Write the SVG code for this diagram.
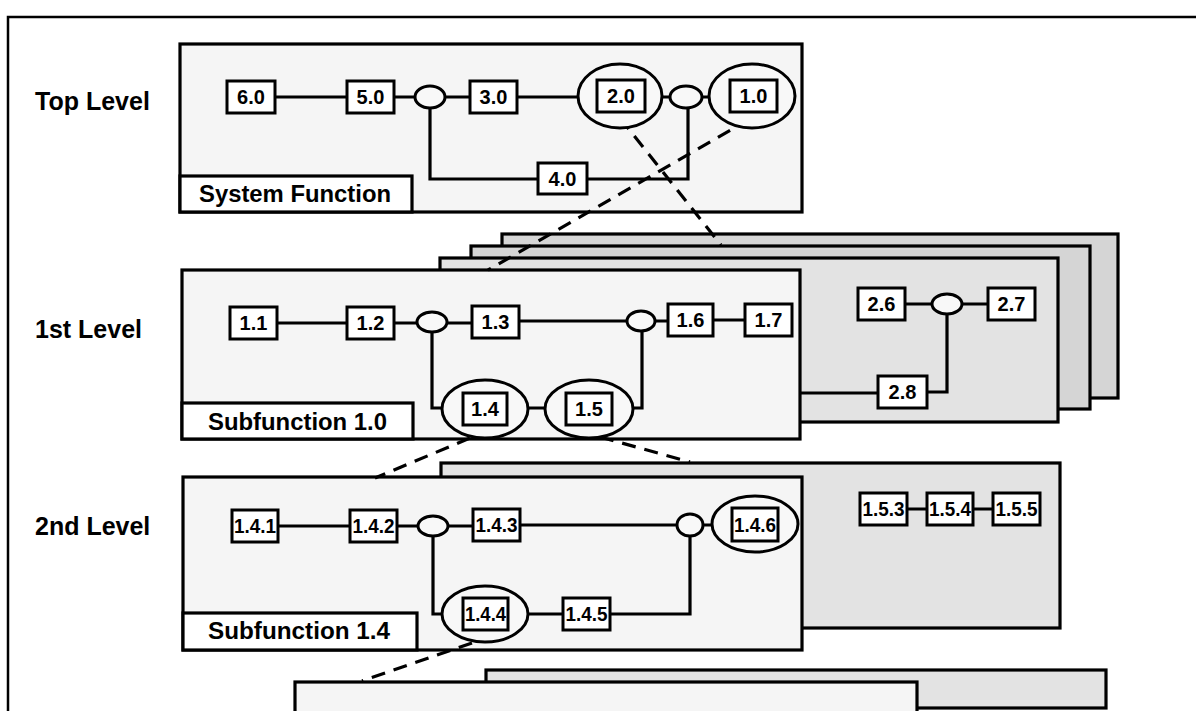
<svg xmlns="http://www.w3.org/2000/svg" width="1196" height="711" viewBox="0 0 1196 711">
<style>
.panel{fill:#f5f5f5;stroke:#000;stroke-width:3.2}
.mid{fill:#e3e3e3;stroke:#000;stroke-width:3.2}
.dark{fill:#d5d5d5;stroke:#000;stroke-width:3.2}
.lbl{fill:#fff;stroke:#000;stroke-width:3.2}
.box{fill:#fff;stroke:#000;stroke-width:3}
.ell{fill:#f8f8f8;stroke:#000;stroke-width:3}
.ln{fill:none;stroke:#000;stroke-width:3.2}
.dash{fill:none;stroke:#000;stroke-width:3.2;stroke-dasharray:14 9}
text{font-family:"Liberation Sans",Arial,Helvetica,sans-serif;font-weight:bold;fill:#000}
.t{font-size:20px;text-anchor:middle}
.lvl{font-size:25px}
.pl{font-size:23px}
</style>
<rect width="1196" height="711" fill="#fff"/>
<path d="M8 711V17H1196" fill="none" stroke="#000" stroke-width="2.5"/>

<g id="level-labels">
<text class="lvl" x="35" y="110">Top Level</text>
<text class="lvl" x="35" y="338">1st Level</text>
<text class="lvl" x="35" y="535">2nd Level</text>
</g>

<!-- panels back to front -->
<g id="panel-top">
<rect class="panel" x="180" y="44" width="622" height="168"/>
<rect class="lbl" x="180" y="176" width="232" height="36"/>
<text class="pl" x="199" y="202" textLength="192" lengthAdjust="spacingAndGlyphs">System Function</text>
</g>

<g id="panel-l1-a"><rect class="dark" x="502" y="234" width="616" height="164"/></g>
<g id="panel-l1-b"><rect class="dark" x="471" y="246" width="619" height="163"/></g>
<g id="panel-l1-c"><rect class="mid" x="440" y="258" width="618" height="164"/></g>
<g id="panel-sub10">
<rect class="panel" x="182" y="270" width="618" height="169"/>
<rect class="lbl" x="182" y="403" width="231" height="36"/>
<text class="pl" x="208" y="430" textLength="179" lengthAdjust="spacingAndGlyphs">Subfunction 1.0</text>
</g>

<g id="panel-l2-back"><rect class="mid" x="441" y="463" width="619" height="165"/></g>
<g id="panel-sub14">
<rect class="panel" x="183" y="477" width="619" height="173"/>
<rect class="lbl" x="183" y="613" width="234" height="37"/>
<text class="pl" x="208" y="639" textLength="182" lengthAdjust="spacingAndGlyphs">Subfunction 1.4</text>
</g>

<g id="panel-l3-back"><rect class="mid" x="486" y="670" width="620" height="38"/></g>
<g id="panel-l3-front"><rect class="panel" x="295" y="682" width="622" height="40"/></g>

<g id="connectors">
<!-- top -->
<path class="ln" d="M275 97H347M394 97H415M445 97H470M517 97H578M662 97H670M702 97H709"/>
<path class="ln" d="M430 108V179H538M587 179H688V108"/>
<!-- level 1 -->
<path class="ln" d="M277 323H347M394 323H417M447 323H472M519 321H627M655 321H668M713 320H745"/>
<path class="ln" d="M432 332V408H442M528 408H545M633 408H642V331"/>
<path class="ln" d="M905 304H932M962 304H988M947 314V392H927M878 393H800"/>
<!-- level 2 -->
<path class="ln" d="M278 526H350M397 526H418M448 526H473M520 525H677M703 525H712"/>
<path class="ln" d="M433 536V614H442M528 614H563M610 614H690V536"/>
<path class="ln" d="M907 509H927M973 509H993"/>
<!-- decomposition links -->
<path class="dash" d="M620 118L721 245"/>
<path class="dash" d="M750 119L488 270"/>
<path class="dash" d="M470 438L375 478"/>
<path class="dash" d="M600 437L690 462"/>
<path class="dash" d="M472 643L362 681"/>
</g>

<!-- top level nodes -->
<g id="n6-0"><rect class="box" x="227" y="81" width="48" height="32"/><text class="t" x="251" y="104">6.0</text></g>
<g id="n5-0"><rect class="box" x="347" y="81" width="47" height="32"/><text class="t" x="370.5" y="104">5.0</text></g>
<g id="j-top-1"><ellipse class="ell" cx="430" cy="97" rx="15" ry="11"/></g>
<g id="n3-0"><rect class="box" x="470" y="81" width="47" height="32"/><text class="t" x="493.5" y="104">3.0</text></g>
<g id="n2-0"><ellipse class="ell" cx="620" cy="96" rx="42" ry="32"/><rect class="box" x="597" y="80" width="48" height="32"/><text class="t" x="621" y="103">2.0</text></g>
<g id="j-top-2"><ellipse class="ell" cx="686" cy="97" rx="16" ry="11"/></g>
<g id="n1-0"><ellipse class="ell" cx="752" cy="96" rx="43" ry="32"/><rect class="box" x="730" y="80" width="47" height="32"/><text class="t" x="753.5" y="103">1.0</text></g>
<g id="n4-0"><rect class="box" x="538" y="163" width="49" height="31"/><text class="t" x="562.5" y="185.5">4.0</text></g>

<!-- level 1 nodes -->
<g id="n1-1"><rect class="box" x="230" y="307" width="47" height="32"/><text class="t" x="253.5" y="330">1.1</text></g>
<g id="n1-2"><rect class="box" x="347" y="307" width="47" height="32"/><text class="t" x="370.5" y="330">1.2</text></g>
<g id="j-l1-1"><ellipse class="ell" cx="432" cy="322" rx="15" ry="10"/></g>
<g id="n1-3"><rect class="box" x="472" y="306" width="47" height="32"/><text class="t" x="495.5" y="329">1.3</text></g>
<g id="j-l1-2"><ellipse class="ell" cx="641" cy="321" rx="14" ry="10"/></g>
<g id="n1-6"><rect class="box" x="668" y="304" width="45" height="32"/><text class="t" x="690.5" y="327">1.6</text></g>
<g id="n1-7"><rect class="box" x="745" y="304" width="47" height="32"/><text class="t" x="768.5" y="327">1.7</text></g>
<g id="n1-4"><ellipse class="ell" cx="485" cy="409" rx="43" ry="29"/><rect class="box" x="463" y="393" width="44" height="32"/><text class="t" x="485" y="416">1.4</text></g>
<g id="n1-5"><ellipse class="ell" cx="589" cy="409" rx="44" ry="29"/><rect class="box" x="566" y="393" width="46" height="32"/><text class="t" x="589" y="416">1.5</text></g>
<g id="n2-6"><rect class="box" x="858" y="288" width="47" height="32"/><text class="t" x="881.5" y="311">2.6</text></g>
<g id="j-l1-3"><ellipse class="ell" cx="947" cy="304" rx="15" ry="10"/></g>
<g id="n2-7"><rect class="box" x="988" y="288" width="47" height="32"/><text class="t" x="1011.5" y="311">2.7</text></g>
<g id="n2-8"><rect class="box" x="878" y="376" width="49" height="32"/><text class="t" x="902.5" y="399">2.8</text></g>

<!-- level 2 nodes -->
<g id="n1-4-1"><rect class="box" x="232" y="510" width="46" height="32"/><text class="t" x="255" y="533" textLength="42" lengthAdjust="spacingAndGlyphs">1.4.1</text></g>
<g id="n1-4-2"><rect class="box" x="350" y="510" width="47" height="32"/><text class="t" x="373.5" y="533" textLength="42" lengthAdjust="spacingAndGlyphs">1.4.2</text></g>
<g id="j-l2-1"><ellipse class="ell" cx="433" cy="526" rx="15" ry="10"/></g>
<g id="n1-4-3"><rect class="box" x="473" y="509" width="47" height="32"/><text class="t" x="496.5" y="532" textLength="42" lengthAdjust="spacingAndGlyphs">1.4.3</text></g>
<g id="j-l2-2"><ellipse class="ell" cx="690" cy="525" rx="13" ry="11"/></g>
<g id="n1-4-6"><ellipse class="ell" cx="755" cy="524" rx="43" ry="28"/><rect class="box" x="732" y="508" width="46" height="33"/><text class="t" x="755" y="531.5" textLength="42" lengthAdjust="spacingAndGlyphs">1.4.6</text></g>
<g id="n1-4-4"><ellipse class="ell" cx="485" cy="614" rx="43" ry="28"/><rect class="box" x="463" y="598" width="45" height="32"/><text class="t" x="485.5" y="621" textLength="41" lengthAdjust="spacingAndGlyphs">1.4.4</text></g>
<g id="n1-4-5"><rect class="box" x="563" y="598" width="47" height="32"/><text class="t" x="586.5" y="621" textLength="42" lengthAdjust="spacingAndGlyphs">1.4.5</text></g>
<g id="n1-5-3"><rect class="box" x="860" y="493" width="47" height="32"/><text class="t" x="883.5" y="516" textLength="42" lengthAdjust="spacingAndGlyphs">1.5.3</text></g>
<g id="n1-5-4"><rect class="box" x="927" y="493" width="46" height="32"/><text class="t" x="950" y="516" textLength="42" lengthAdjust="spacingAndGlyphs">1.5.4</text></g>
<g id="n1-5-5"><rect class="box" x="993" y="493" width="47" height="32"/><text class="t" x="1016.5" y="516" textLength="42" lengthAdjust="spacingAndGlyphs">1.5.5</text></g>
</svg>
